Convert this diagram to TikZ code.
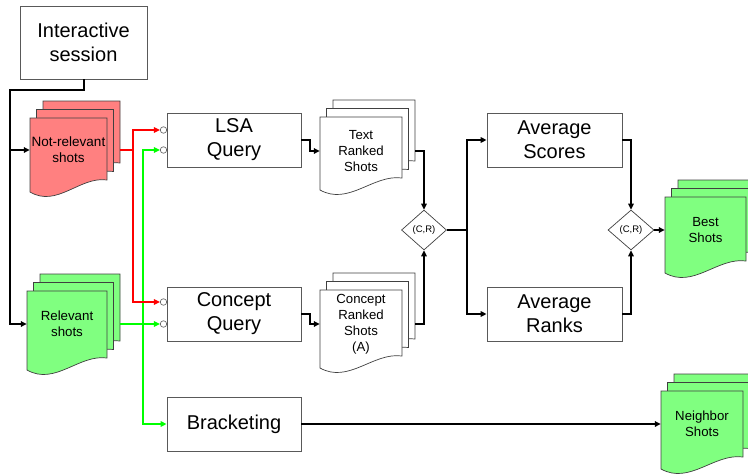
\documentclass[tikz,border=0pt]{standalone}
\usepackage{fontspec}
\setmainfont{Liberation Sans}
\usetikzlibrary{shapes.geometric,arrows.meta}

\definecolor{notrelfill}{HTML}{FF8080}
\definecolor{relfill}{HTML}{80FF80}
\definecolor{redline}{HTML}{FF0000}
\definecolor{greenline}{HTML}{00FF00}

% stack of three shot documents, the front one carries the label
% #1 name, #2 left, #3 top, #4 width, #5 height, #6 fill, #7 label, #8 label y, #9 font size
\newcommand{\shotstack}[9]{%
  \foreach \k in {2,1,0}{
    \pgfmathsetmacro\docx{#2+6.5*\k}
    \pgfmathsetmacro\docy{#3-8.5*\k}
    \filldraw[docline,fill=#6] (\docx,\docy) -- ++(#4,0) -- ++(0,{#5-12})
      .. controls ({\docx+0.65*#4},{\docy+#5-16}) and ({\docx+0.35*#4},{\docy+#5+16}) .. (\docx,{\docy+#5}) -- cycle;
  }
  \node[shotlabel,minimum width=#4pt,font=\fontsize{#9}{16}\selectfont] (#1) at ({#2+#4/2},#8) {#7};
}

\begin{document}
\begin{tikzpicture}[x=1pt,y=-1pt,
    box/.style={draw=black!65,line width=0.8pt,fill=white,minimum width=134pt,minimum height=54pt,
      align=center,inner sep=0pt,font=\fontsize{20}{24}\selectfont},
    docline/.style={draw=black!75,line width=0.7pt},
    shotlabel/.style={align=center,inner sep=0pt},
    merge/.style={diamond,draw=black!75,line width=0.7pt,fill=white,minimum width=45pt,
      minimum height=40pt,inner sep=0pt,font=\fontsize{9.5}{11}\selectfont},
    port/.style={circle,draw=black!65,line width=0.6pt,fill=white,minimum size=6.5pt,inner sep=0pt},
    flow/.style={line width=2pt,-{Triangle[length=6pt,width=5.5pt]}},
    redflow/.style={flow,line width=1.8pt,draw=redline},
    greenflow/.style={flow,line width=1.8pt,draw=greenline}]

  \useasboundingbox (0,0) rectangle (748,474);
  \clip (0,0) rectangle (748,474);

  % processing boxes
  \node[box,minimum width=127pt,minimum height=73pt] (session) at (83.5,42.5) {Interactive\\session};
  \node[box] (lsa) at (234,140) {LSA\\Query};
  \node[box] (cq) at (234,314) {Concept\\Query};
  \node[box] (brk) at (234,424) {Bracketing};
  \node[box,minimum width=135pt] (avgs) at (554.5,140) {Average\\Scores};
  \node[box,minimum width=135pt] (avgr) at (554.5,314) {Average\\Ranks};

  % shot lists
  \shotstack{notrel}{30}{118}{77}{74}{notrelfill}{Not-relevant\\shots}{150}{13.5}
  \shotstack{rel}{27}{291}{80}{79}{relfill}{Relevant\\shots}{324}{13.3}
  \shotstack{textrank}{320}{117}{82}{73}{white}{Text\\Ranked\\Shots}{151}{13.2}
  \shotstack{conrank}{320}{290}{82}{78}{white}{Concept\\Ranked\\Shots\\(A)}{324}{13.2}
  \shotstack{best}{665}{197}{81}{76}{relfill}{Best\\Shots}{230}{13.2}
  \shotstack{neigh}{661}{391}{82}{78}{relfill}{Neighbor\\Shots}{424}{13.2}

  % merge points
  \node[merge] (d1) at (424,230) {(C,R)};
  \node[merge,minimum width=46pt] (d2) at (631,230) {(C,R)};

  % query inputs
  \node[port] (lsa-a) at (163.5,130) {};
  \node[port] (lsa-b) at (163.5,150) {};
  \node[port] (cq-a) at (163.5,302) {};
  \node[port] (cq-b) at (163.5,324) {};

  % session feedback
  \coordinate (bend) at (10,90);
  \draw[flow] (session.south) |- (bend) |- (rel.west);
  \draw[flow] (bend |- notrel.west) -- (notrel.west);

  % relevant shots
  \coordinate (gsplit) at (143,324);
  \draw[greenflow] ([xshift=13pt]rel.east) -- (gsplit) -- (cq-b.west);
  \draw[greenflow] (gsplit) |- (lsa-b.west);
  \draw[greenflow] (gsplit) |- (brk.west);

  % not-relevant shots
  \coordinate (rsplit) at (133,150);
  \draw[redflow] ([xshift=13pt]notrel.east) -- (rsplit) |- (lsa-a.west);
  \draw[redflow] (rsplit) |- (cq-a.west);

  % queries to ranked lists
  \draw[flow] (lsa.east) -- ++(9,0) |- (textrank.west);
  \draw[flow] (cq.east) -- ++(9,0) |- (conrank.west);
  \draw[flow] ([xshift=13pt]textrank.east) -| (d1.north);
  \draw[flow] ([xshift=13pt]conrank.east) -| (d1.south);

  % fusion
  \coordinate (fork) at (467,230);
  \draw[flow,-] (d1.east) -- (fork);
  \draw[flow] (fork) |- (avgs.west);
  \draw[flow] (fork) |- (avgr.west);
  \draw[flow] (avgs.east) -| (d2.north);
  \draw[flow] (avgr.east) -| (d2.south);
  \draw[flow] (d2.east) -- (best.west);
  \draw[flow] (brk.east) -- (neigh.west);
\end{tikzpicture}
\end{document}
